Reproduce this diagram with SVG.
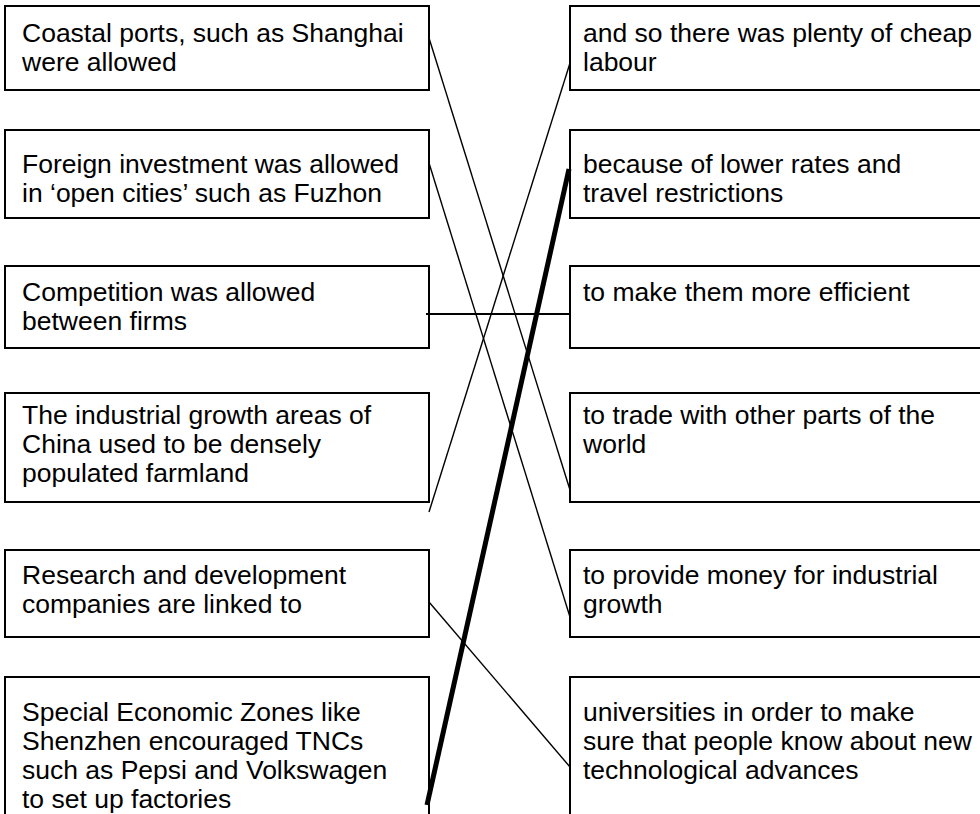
<svg xmlns="http://www.w3.org/2000/svg" width="980" height="814" viewBox="0 0 980 814">
<style>
.box{fill:#fff;stroke:#000;stroke-width:2}
.t{font-family:"Liberation Sans",Arial,sans-serif;font-size:26.5px;fill:#000}
.thin{stroke:#000;stroke-width:1.4;fill:none}
</style>
<rect x="0" y="0" width="980" height="814" fill="#fff"/>
<g id="left1"><rect class="box" x="5" y="6" width="424" height="84"/><text class="t" x="22" y="42">Coastal ports, such as Shanghai</text><text class="t" x="22" y="71">were allowed</text></g>
<g id="left2"><rect class="box" x="5" y="130" width="424" height="88"/><text class="t" x="22" y="173">Foreign investment was allowed</text><text class="t" x="22" y="202">in ‘open cities’ such as Fuzhon</text></g>
<g id="left3"><rect class="box" x="5" y="266" width="424" height="82"/><text class="t" x="22" y="301">Competition was allowed</text><text class="t" x="22" y="330">between firms</text></g>
<g id="left4"><rect class="box" x="5" y="393" width="424" height="109"/><text class="t" x="22" y="424">The industrial growth areas of</text><text class="t" x="22" y="453">China used to be densely</text><text class="t" x="22" y="482">populated farmland</text></g>
<g id="left5"><rect class="box" x="5" y="550" width="424" height="87"/><text class="t" x="22" y="584">Research and development</text><text class="t" x="22" y="613">companies are linked to</text></g>
<g id="left6"><rect class="box" x="5" y="677" width="424" height="150"/><text class="t" x="22" y="721">Special Economic Zones like</text><text class="t" x="22" y="750">Shenzhen encouraged TNCs</text><text class="t" x="22" y="779">such as Pepsi and Volkswagen</text><text class="t" x="22" y="808">to set up factories</text></g>
<g id="right1"><rect class="box" x="570" y="6" width="420" height="84"/><text class="t" x="583" y="42">and so there was plenty of cheap</text><text class="t" x="583" y="71">labour</text></g>
<g id="right2"><rect class="box" x="570" y="130" width="420" height="88"/><text class="t" x="583" y="173">because of lower rates and</text><text class="t" x="583" y="202">travel restrictions</text></g>
<g id="right3"><rect class="box" x="570" y="266" width="420" height="82"/><text class="t" x="583" y="301">to make them more efficient</text></g>
<g id="right4"><rect class="box" x="570" y="393" width="420" height="109"/><text class="t" x="583" y="424">to trade with other parts of the</text><text class="t" x="583" y="453">world</text></g>
<g id="right5"><rect class="box" x="570" y="550" width="420" height="87"/><text class="t" x="583" y="584">to provide money for industrial</text><text class="t" x="583" y="613">growth</text></g>
<g id="right6"><rect class="box" x="570" y="677" width="420" height="150"/><text class="t" x="583" y="721">universities in order to make</text><text class="t" x="583" y="750">sure that people know about new</text><text class="t" x="583" y="779">technological advances</text></g>
<g id="connectors">
<line class="thin" x1="429" y1="38" x2="570" y2="490"/>
<line class="thin" x1="429" y1="163" x2="570" y2="617"/>
<line class="thin" x1="570" y1="63" x2="429" y2="512"/>
<line x1="426" y1="314" x2="570" y2="314" stroke="#000" stroke-width="2.2"/>
<line x1="569" y1="169" x2="427" y2="805" stroke="#000" stroke-width="5"/>
<line class="thin" x1="429" y1="602" x2="570" y2="767"/>
</g>
</svg>
